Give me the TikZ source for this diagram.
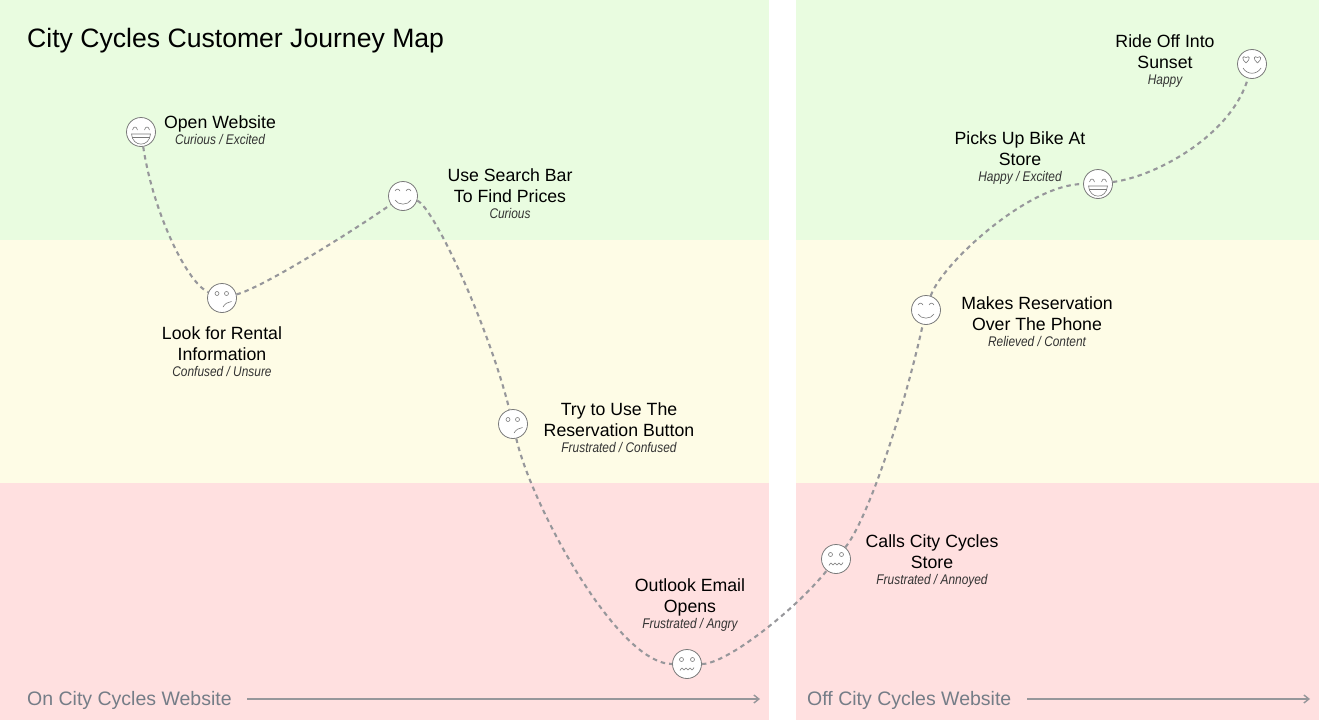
\documentclass[tikz,border=0pt]{standalone}
\usepackage{fontspec}
\usetikzlibrary{arrows.meta}
\setmainfont{Liberation Sans}
\newfontfamily\feelfont[FakeStretch=0.85]{Liberation Sans}
\definecolor{happygreen}{HTML}{E9FCE0}
\definecolor{okyellow}{HTML}{FEFCE6}
\definecolor{angryred}{HTML}{FFE0E0}
\definecolor{pathgray}{HTML}{97979B}
\definecolor{sitegray}{HTML}{757D87}
\definecolor{facegray}{HTML}{7A7A7A}
\tikzset{
  face/.style={shape=circle, draw=facegray, fill=white, line width=0.8pt, minimum size=29pt, inner sep=0pt},
  mood/.style={align=center, text=black, font=\fontsize{17.7}{21}\selectfont},
  journey/.style={draw=pathgray, line width=2.1pt, dash pattern=on 4.5pt off 4pt},
  sitelabel/.style={text=sitegray, font=\fontsize{19.5}{23}\selectfont, anchor=west, inner sep=0pt},
  sitearrow/.style={draw=pathgray, line width=1.4pt, -{Straight Barb[length=5pt,width=8pt]}},
  feature/.style={draw=facegray, line width=0.6pt},
  grinface/.pic={
    \draw[feature] (-8.5,-2) .. controls (-7.5,-6) and (-4.5,-6) .. (-3.5,-2);
    \draw[feature] (3.5,-2) .. controls (4.5,-6) and (7.5,-6) .. (8.5,-2);
    \draw[feature] (-9.5,2) .. controls (-8.5,15.5) and (8.5,15.5) .. (9.5,2) -- cycle;
    \draw[feature] (-9,5.5) -- (9,5.5);
  },
  smileface/.pic={
    \draw[feature] (-8,-5) .. controls (-6.5,-7.5) and (-4.5,-7.5) .. (-3,-5);
    \draw[feature] (3,-5) .. controls (4.5,-7.5) and (6.5,-7.5) .. (8,-5);
    \draw[feature] (-8,4) .. controls (-5,9.5) and (5,9.5) .. (8,4);
  },
  unsureface/.pic={
    \draw[feature] (-5,-4.5) circle (2);
    \draw[feature] (4.5,-4.5) circle (2);
    \draw[feature] (1,9) .. controls (3,5.5) and (6,4) .. (9.5,3.5);
  },
  upsetface/.pic={
    \draw[feature] (-5.5,-4.5) circle (2);
    \draw[feature] (5.5,-4.5) circle (2);
    \draw[feature, rounded corners=0.8pt] (-7,6.5) -- (-5,3.5) -- (-3,6.5) -- (-1,3.5) -- (1,6.5) -- (3,3.5) -- (5,6.5) -- (7,3.5);
  },
  loveface/.pic={
    \draw[feature] (-6,-1) .. controls (-11,-5) and (-9.5,-9) .. (-6,-6.5) .. controls (-2.5,-9) and (-1,-5) .. (-6,-1);
    \draw[feature] (5.5,-1) .. controls (0.5,-5) and (2,-9) .. (5.5,-6.5) .. controls (9,-9) and (10.5,-5) .. (5.5,-1);
    \draw[feature] (-9,4) .. controls (-5,11) and (5,11) .. (9,4);
  },
}
\newcommand{\feel}[1]{{\feelfont\fontsize{14}{17}\selectfont\itshape\color{black!80} #1}}
\begin{document}
\begin{tikzpicture}[x=1pt, y=-1pt]
\useasboundingbox (0,0) rectangle (1319,720);
\fill[happygreen] (0,0) rectangle (769,240);
\fill[okyellow] (0,240) rectangle (769,483);
\fill[angryred] (0,483) rectangle (769,720);
\fill[happygreen] (796,0) rectangle (1319,240);
\fill[okyellow] (796,240) rectangle (1319,483);
\fill[angryred] (796,483) rectangle (1319,720);

\node[anchor=west, inner sep=0pt, font=\fontsize{26.6}{30}\selectfont](title) at (27,41) {City Cycles Customer Journey Map};

\node[face](open) at (141,132) {};
\node[face](rental) at (222,298) {};
\node[face](search) at (403,196) {};
\node[face](button) at (513,424) {};
\node[face](email) at (687,664) {};
\node[face](calls) at (836,559) {};
\node[face](phone) at (926,310) {};
\node[face](store) at (1098,184) {};
\node[face](sunset) at (1252,64) {};

\pic at (open) {grinface};
\pic at (rental) {unsureface};
\pic at (search) {smileface};
\pic at (button) {unsureface};
\pic at (email) {upsetface};
\pic at (calls) {upsetface};
\pic at (phone) {smileface};
\pic at (store) {grinface};
\pic at (sunset) {loveface};

\draw[journey] (open) .. controls +(12,80) and +(-35,-15) .. (rental);
\draw[journey] (rental) .. controls +(40,-10) and +(-50,35) .. (search);
\draw[journey] (search) .. controls +(30,10) and +(-25,-100) .. (button);
\draw[journey] (button) .. controls +(18,80) and +(-70,0) .. (email);
\draw[journey] (email) .. controls +(40,0) and +(-40,50) .. (calls);
\draw[journey] (calls) .. controls +(32,-40) and +(-22,100) .. (phone);
\draw[journey] (phone) .. controls +(15,-45) and +(-70,0) .. (store);
\draw[journey] (store) .. controls +(60,-8) and +(-20,70) .. (sunset);

\node[mood](openlabel) at (220,130) {Open Website\\[-5pt]\feel{Curious / Excited}};
\node[mood](rentallabel) at (222,352) {Look for Rental\\Information\\[-5pt]\feel{Confused / Unsure}};
\node[mood](searchlabel) at (510,194) {Use Search Bar\\To Find Prices\\[-5pt]\feel{Curious}};
\node[mood](buttonlabel) at (619,428) {Try to Use The\\Reservation Button\\[-5pt]\feel{Frustrated / Confused}};
\node[mood](emaillabel) at (690,605) {Outlook Email\\Opens\\[-5pt]\feel{Frustrated / Angry}};
\node[mood](callslabel) at (932,561) {Calls City Cycles\\Store\\[-5pt]\feel{Frustrated / Annoyed}};
\node[mood](phonelabel) at (1037,322) {Makes Reservation\\Over The Phone\\[-5pt]\feel{Relieved / Content}};
\node[mood](storelabel) at (1020,158) {Picks Up Bike At\\Store\\[-5pt]\feel{Happy / Excited}};
\node[mood](sunsetlabel) at (1165,61) {Ride Off Into\\Sunset\\[-5pt]\feel{Happy}};

\node[sitelabel](onsite) at (27,700) {On City Cycles Website};
\node[sitelabel](offsite) at (807,700) {Off City Cycles Website};
\coordinate (onstart) at (247,699);
\coordinate (onend) at (760,699);
\coordinate (offstart) at (1027,699);
\coordinate (offend) at (1310,699);
\draw[sitearrow] (onstart) -- (onend);
\draw[sitearrow] (offstart) -- (offend);
\end{tikzpicture}
\end{document}
